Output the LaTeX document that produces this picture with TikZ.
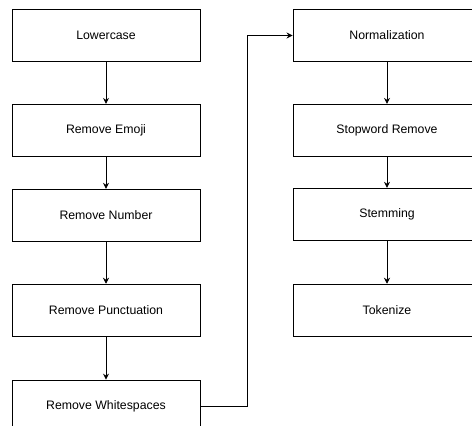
\documentclass[tikz,border=0pt]{standalone}
\usepackage{fontspec}
\setmainfont{Liberation Sans}
\usetikzlibrary{arrows.meta, positioning}

\tikzset{
    stepbox/.style={draw, line width=0.9pt, minimum width=188pt, minimum height=52pt,
        inner sep=0pt, font=\fontsize{12.3pt}{14pt}\selectfont},
    flow/.style={draw, line width=0.9pt, -{Stealth[length=6pt,width=6pt]}}
}

\begin{document}
\begin{tikzpicture}[x=1pt, y=1pt]
\useasboundingbox (0,0) rectangle (472,-426);
% left column
\node[stepbox] (lower) at (106,-35.5) {Lowercase};
\node[stepbox, below=42pt of lower] (emoji) {Remove Emoji};
\node[stepbox, below=32pt of emoji] (number) {Remove Number};
\node[stepbox, below=42pt of number] (punct) {Remove Punctuation};
\node[stepbox, below=43pt of punct] (space) {Remove Whitespaces};
% right column
\node[stepbox] (norm) at (387,-35.5) {Normalization};
\node[stepbox, below=42pt of norm] (stop) {Stopword Remove};
\node[stepbox, below=31pt of stop] (stem) {Stemming};
\node[stepbox, below=43pt of stem] (token) {Tokenize};
% arrows
\draw[flow] (lower) -- (emoji);
\draw[flow] (emoji) -- (number);
\draw[flow] (number) -- (punct);
\draw[flow] (punct) -- (space);
\draw[flow] (space.east) -| (247,-35.5) -- (norm.west);
\draw[flow] (norm) -- (stop);
\draw[flow] (stop) -- (stem);
\draw[flow] (stem) -- (token);
\end{tikzpicture}
\end{document}
